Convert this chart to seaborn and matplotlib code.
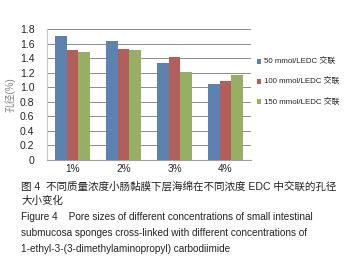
import numpy as np
import pandas as pd
import matplotlib
matplotlib.use("Agg")
import matplotlib.pyplot as plt
import seaborn as sns

# data
concs = ['1%', '2%', '3%', '4%']
series = ['50 mmol/LEDC 交联', '100 mmol/LEDC 交联', '150 mmol/LEDC 交联']
vals_50 = [1.70, 1.63, 1.34, 1.05]
vals_100 = [1.51, 1.52, 1.41, 1.08]
vals_150 = [1.48, 1.51, 1.21, 1.17]
colors = ['#4F81BD', '#C0504D', '#9BBB59']

df = pd.DataFrame({
    'conc': concs * 3,
    'series': [s for s in series for _ in concs],
    'value': vals_50 + vals_100 + vals_150,
})

sns.set_style("white")
plt.rcParams['font.family'] = ['Liberation Sans', 'Noto Sans CJK SC', 'DejaVu Sans']

fig = plt.figure(figsize=(3.53, 2.67), dpi=100)
ax = fig.add_axes([0.133, 0.401, 0.578, 0.490])

sns.barplot(data=df, x='conc', y='value', hue='series', palette=colors,
            width=0.68, ax=ax, edgecolor='none', zorder=3)

ax.set_ylim(0, 1.8)
ax.set_yticks(np.arange(0, 1.81, 0.2))
ax.set_yticklabels(['0'] + [f'{v:.1f}' for v in np.arange(0.2, 1.81, 0.2)], fontsize=7.6)
ax.set_xlim(-0.5, 3.5)
ax.tick_params(axis='x', labelsize=7.2, length=0, pad=3)
ax.tick_params(axis='y', length=0, pad=9)
ax.yaxis.grid(True, color='#8c8c8c', linewidth=0.7)
ax.set_axisbelow(True)
for s in ['top', 'right']:
    ax.spines[s].set_visible(False)
ax.spines['left'].set_color('#c8c8c8')
ax.spines['bottom'].set_color('#a0a0a0')
ax.set_xlabel('')
ax.set_ylabel('孔径(%)', fontsize=7, color='#808080', labelpad=3)

ax.legend(loc='upper left', bbox_to_anchor=(0.718, 0.795), bbox_transform=fig.transFigure,
          frameon=False, fontsize=5.7, handlelength=0.6, handleheight=0.6,
          handletextpad=0.3, labelspacing=1.55, borderaxespad=0)

cap_cn = dict(fontsize=7.6, ha='left', va='center', color='#222222')
cap_en = dict(fontsize=7.2, ha='left', va='center', color='#222222')
fig.text(0.060, 1 - 186 / 267, '图 4  不同质量浓度小肠黏膜下层海绵在不同浓度 EDC 中交联的孔径', **cap_cn)
fig.text(0.060, 1 - 201 / 267, '大小变化', **cap_cn)
fig.text(0.060, 1 - 217 / 267, 'Figure 4    Pore sizes of different concentrations of small intestinal', **cap_en)
fig.text(0.060, 1 - 233 / 267, 'submucosa sponges cross-linked with different concentrations of', **cap_en)
fig.text(0.060, 1 - 249 / 267, '1-ethyl-3-(3-dimethylaminopropyl) carbodiimide', **cap_en)

fig.savefig('out.png', dpi=100)
